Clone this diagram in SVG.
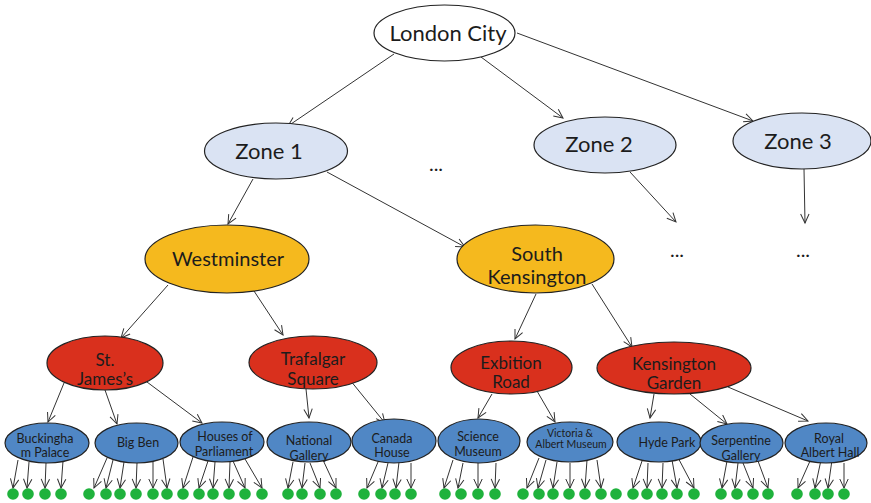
<svg xmlns="http://www.w3.org/2000/svg" width="871" height="503" viewBox="0 0 871 503">
  <defs>
    <marker id="arrow" markerUnits="userSpaceOnUse" markerWidth="12" markerHeight="12" refX="10" refY="5" orient="auto">
      <path d="M1,0.8 L10,5 L1,9.2" fill="none" stroke="#333" stroke-width="1"/>
    </marker>
    <style>
      .edge { stroke: #333; stroke-width: 1; fill: none; marker-end: url(#arrow); }
      .node { stroke: #222; stroke-width: 1.2; }
      .root { fill: #ffffff; }
      .zone { fill: #dae3f3; }
      .area { fill: #f5b91e; }
      .street { fill: #d9301d; }
      .sight { fill: #5087c5; }
      .leaf { fill: #1fb23c; }
      text { font-family: Lato, "Liberation Sans", sans-serif; fill: #1c1c1c; text-anchor: middle; }
      .t22 { font-size: 22px; }
      .t20 { font-size: 20px; }
      .t17 { font-size: 17px; }
      .t13 { font-size: 12.5px; }
      .t10 { font-size: 10.5px; }
    </style>
  </defs>

  <!-- connectors -->
  <g id="connectors">
    <line class="edge" x1="394" y1="54" x2="288" y2="126"/>
    <line class="edge" x1="481" y1="57" x2="563" y2="118"/>
    <line class="edge" x1="517" y1="33" x2="753" y2="121"/>
    <line class="edge" x1="253" y1="179" x2="228" y2="224"/>
    <line class="edge" x1="327" y1="172" x2="465" y2="247"/>
    <line class="edge" x1="630" y1="172" x2="676" y2="222"/>
    <line class="edge" x1="804" y1="169" x2="805" y2="223"/>

    <line class="edge" x1="168" y1="285" x2="121" y2="338"/>
    <line class="edge" x1="254" y1="291" x2="283" y2="335"/>
    <line class="edge" x1="536" y1="294" x2="515" y2="339"/>
    <line class="edge" x1="592" y1="284" x2="632" y2="347"/>

    <line class="edge" x1="64" y1="383" x2="48" y2="422"/>
    <line class="edge" x1="105" y1="390" x2="117" y2="424"/>
    <line class="edge" x1="147" y1="382" x2="202" y2="423"/>
    <line class="edge" x1="306" y1="389" x2="309" y2="418"/>
    <line class="edge" x1="350" y1="380" x2="385" y2="423"/>
    <line class="edge" x1="492" y1="394" x2="478" y2="418"/>
    <line class="edge" x1="537" y1="391" x2="555" y2="422"/>
    <line class="edge" x1="654" y1="394" x2="650" y2="418"/>
    <line class="edge" x1="690" y1="394" x2="727" y2="424"/>
    <line class="edge" x1="728" y1="387" x2="808" y2="421"/>

    <!-- from the sights down to the leaves -->
    <line class="edge" x1="18" y1="460" x2="13" y2="488"/>
    <line class="edge" x1="29" y1="462" x2="27" y2="488"/>
    <line class="edge" x1="46" y1="463" x2="45" y2="488"/>
    <line class="edge" x1="63" y1="461" x2="61" y2="488"/>

    <line class="edge" x1="107" y1="458" x2="94" y2="488"/>
    <line class="edge" x1="113" y1="460" x2="106" y2="488"/>
    <line class="edge" x1="124" y1="462" x2="120" y2="488"/>
    <line class="edge" x1="137" y1="463" x2="136" y2="488"/>
    <line class="edge" x1="153" y1="462" x2="153" y2="488"/>
    <line class="edge" x1="163" y1="459" x2="167" y2="488"/>

    <line class="edge" x1="193" y1="457" x2="183" y2="488"/>
    <line class="edge" x1="208" y1="461" x2="199" y2="488"/>
    <line class="edge" x1="215" y1="462" x2="213" y2="488"/>
    <line class="edge" x1="230" y1="462" x2="229" y2="488"/>
    <line class="edge" x1="233" y1="461" x2="245" y2="488"/>
    <line class="edge" x1="245" y1="459" x2="262" y2="488"/>

    <line class="edge" x1="293" y1="462" x2="288" y2="488"/>
    <line class="edge" x1="305" y1="463" x2="302" y2="488"/>
    <line class="edge" x1="310" y1="463" x2="320" y2="488"/>
    <line class="edge" x1="323" y1="460" x2="336" y2="488"/>

    <line class="edge" x1="378" y1="462" x2="367" y2="488"/>
    <line class="edge" x1="388" y1="463" x2="382" y2="488"/>
    <line class="edge" x1="399" y1="462" x2="396" y2="488"/>
    <line class="edge" x1="411" y1="463" x2="411" y2="488"/>

    <line class="edge" x1="453" y1="460" x2="444" y2="488"/>
    <line class="edge" x1="463" y1="463" x2="458" y2="488"/>
    <line class="edge" x1="478" y1="463" x2="478" y2="488"/>
    <line class="edge" x1="496" y1="463" x2="495" y2="488"/>

    <line class="edge" x1="539" y1="458" x2="527" y2="488"/>
    <line class="edge" x1="546" y1="460" x2="538" y2="488"/>
    <line class="edge" x1="557" y1="462" x2="553" y2="488"/>
    <line class="edge" x1="570" y1="463" x2="570" y2="488"/>
    <line class="edge" x1="587" y1="460" x2="585" y2="488"/>
    <line class="edge" x1="597" y1="460" x2="601" y2="488"/>

    <line class="edge" x1="642" y1="461" x2="633" y2="488"/>
    <line class="edge" x1="648" y1="463" x2="647" y2="488"/>
    <line class="edge" x1="663" y1="463" x2="662" y2="488"/>
    <line class="edge" x1="672" y1="460" x2="677" y2="488"/>
    <line class="edge" x1="675" y1="452" x2="694" y2="488"/>

    <line class="edge" x1="727" y1="461" x2="722" y2="488"/>
    <line class="edge" x1="738" y1="463" x2="735" y2="488"/>
    <line class="edge" x1="743" y1="463" x2="753" y2="488"/>
    <line class="edge" x1="758" y1="461" x2="768" y2="488"/>

    <line class="edge" x1="810" y1="461" x2="798" y2="488"/>
    <line class="edge" x1="821" y1="460" x2="815" y2="488"/>
    <line class="edge" x1="832" y1="460" x2="828" y2="488"/>
    <line class="edge" x1="844" y1="463" x2="844" y2="488"/>
  </g>

  <!-- city -->
  <g id="london-city">
    <ellipse class="node root" cx="444.5" cy="33" rx="70.5" ry="28"/>
    <text class="t22" x="448" y="41">London City</text>
  </g>

  <!-- zones -->
  <g id="zone-1">
    <ellipse class="node zone" cx="276" cy="151" rx="71.5" ry="28"/>
    <text class="t22" x="269" y="159">Zone 1</text>
  </g>
  <g id="zone-2">
    <ellipse class="node zone" cx="605" cy="145" rx="71" ry="28"/>
    <text class="t22" x="599" y="152">Zone 2</text>
  </g>
  <g id="zone-3">
    <ellipse class="node zone" cx="802" cy="141" rx="69" ry="28"/>
    <text class="t22" x="798" y="149">Zone 3</text>
  </g>
  <g id="ellipsis">
    <text class="t20" x="436" y="171">...</text>
    <text class="t20" x="677" y="257">...</text>
    <text class="t20" x="803" y="257">...</text>
  </g>

  <!-- areas -->
  <g id="westminster">
    <ellipse class="node area" cx="227" cy="259" rx="82" ry="34"/>
    <text class="t20" x="228" y="266">Westminster</text>
  </g>
  <g id="south-kensington">
    <ellipse class="node area" cx="535.5" cy="259" rx="78.5" ry="34"/>
    <text class="t20" x="537" y="261">South</text>
    <text class="t20" x="537" y="284">Kensington</text>
  </g>

  <!-- streets -->
  <g id="st-jamess">
    <ellipse class="node street" cx="105" cy="363" rx="58" ry="27"/>
    <text class="t17" x="105" y="366">St.</text>
    <text class="t17" x="105" y="385">James’s</text>
  </g>
  <g id="trafalgar-square">
    <ellipse class="node street" cx="313" cy="362.5" rx="64" ry="26.5"/>
    <text class="t17" x="313" y="365">Trafalgar</text>
    <text class="t17" x="313" y="384.5">Square</text>
  </g>
  <g id="exbition-road">
    <ellipse class="node street" cx="511.5" cy="367.5" rx="60.5" ry="26.5"/>
    <text class="t17" x="511" y="369">Exbition</text>
    <text class="t17" x="511" y="388">Road</text>
  </g>
  <g id="kensington-garden">
    <ellipse class="node street" cx="674" cy="368" rx="77" ry="26"/>
    <text class="t17" x="674" y="370">Kensington</text>
    <text class="t17" x="674" y="389">Garden</text>
  </g>

  <!-- sights -->
  <g id="buckingham-palace">
    <ellipse class="node sight" cx="47" cy="443" rx="42" ry="20"/>
    <text class="t13" x="45" y="443">Buckingha</text>
    <text class="t13" x="45" y="457">m Palace</text>
  </g>
  <g id="big-ben">
    <ellipse class="node sight" cx="136.5" cy="443" rx="41.5" ry="20"/>
    <text class="t13" x="138" y="447">Big Ben</text>
  </g>
  <g id="houses-of-parliament">
    <ellipse class="node sight" cx="222" cy="442" rx="42" ry="20"/>
    <text class="t13" x="225" y="441">Houses of</text>
    <text class="t13" x="224" y="456">Parliament</text>
  </g>
  <g id="national-gallery">
    <ellipse class="node sight" cx="309" cy="442" rx="42" ry="20"/>
    <text class="t13" x="309" y="445">National</text>
    <text class="t13" x="309" y="459.5">Gallery</text>
  </g>
  <g id="canada-house">
    <ellipse class="node sight" cx="394" cy="441" rx="42" ry="22"/>
    <text class="t13" x="392" y="443">Canada</text>
    <text class="t13" x="392" y="457">House</text>
  </g>
  <g id="science-museum">
    <ellipse class="node sight" cx="479" cy="441" rx="41" ry="22"/>
    <text class="t13" x="478" y="441">Science</text>
    <text class="t13" x="478" y="456">Museum</text>
  </g>
  <g id="victoria-albert-museum">
    <ellipse class="node sight" cx="570" cy="442" rx="43" ry="20"/>
    <text class="t10" x="570" y="437">Victoria &amp;</text>
    <text class="t10" x="571" y="448">Albert Museum</text>
  </g>
  <g id="hyde-park">
    <ellipse class="node sight" cx="659" cy="442" rx="42" ry="20"/>
    <text class="t13" x="667" y="447">Hyde Park</text>
  </g>
  <g id="serpentine-gallery">
    <ellipse class="node sight" cx="741.5" cy="443" rx="41.5" ry="20"/>
    <text class="t13" x="741" y="445">Serpentine</text>
    <text class="t13" x="741" y="459.5">Gallery</text>
  </g>
  <g id="royal-albert-hall">
    <ellipse class="node sight" cx="826" cy="443" rx="41" ry="20"/>
    <text class="t13" x="829" y="443">Royal</text>
    <text class="t13" x="830" y="457">Albert Hall</text>
  </g>

  <!-- leaves -->
  <g id="leaves">
    <circle class="leaf" cx="13" cy="494" r="5.8"/>
    <circle class="leaf" cx="28" cy="494" r="5.8"/>
    <circle class="leaf" cx="45" cy="494" r="5.8"/>
    <circle class="leaf" cx="61" cy="494" r="5.8"/>
    <circle class="leaf" cx="89" cy="494" r="5.8"/>
    <circle class="leaf" cx="106" cy="494" r="5.8"/>
    <circle class="leaf" cx="120" cy="494" r="5.8"/>
    <circle class="leaf" cx="136" cy="494" r="5.8"/>
    <circle class="leaf" cx="153" cy="494" r="5.8"/>
    <circle class="leaf" cx="167" cy="494" r="5.8"/>
    <circle class="leaf" cx="183" cy="494" r="5.8"/>
    <circle class="leaf" cx="199" cy="494" r="5.8"/>
    <circle class="leaf" cx="213" cy="494" r="5.8"/>
    <circle class="leaf" cx="229" cy="494" r="5.8"/>
    <circle class="leaf" cx="245" cy="494" r="5.8"/>
    <circle class="leaf" cx="262" cy="494" r="5.8"/>
    <circle class="leaf" cx="288" cy="494" r="5.8"/>
    <circle class="leaf" cx="302" cy="494" r="5.8"/>
    <circle class="leaf" cx="320" cy="494" r="5.8"/>
    <circle class="leaf" cx="336" cy="494" r="5.8"/>
    <circle class="leaf" cx="364" cy="494" r="5.8"/>
    <circle class="leaf" cx="381" cy="494" r="5.8"/>
    <circle class="leaf" cx="395" cy="494" r="5.8"/>
    <circle class="leaf" cx="411" cy="494" r="5.8"/>
    <circle class="leaf" cx="445" cy="494" r="5.8"/>
    <circle class="leaf" cx="461" cy="494" r="5.8"/>
    <circle class="leaf" cx="478" cy="494" r="5.8"/>
    <circle class="leaf" cx="495" cy="494" r="5.8"/>
    <circle class="leaf" cx="523" cy="494" r="5.8"/>
    <circle class="leaf" cx="539" cy="494" r="5.8"/>
    <circle class="leaf" cx="553" cy="494" r="5.8"/>
    <circle class="leaf" cx="569" cy="494" r="5.8"/>
    <circle class="leaf" cx="585" cy="494" r="5.8"/>
    <circle class="leaf" cx="601" cy="494" r="5.8"/>
    <circle class="leaf" cx="616" cy="494" r="5.8"/>
    <circle class="leaf" cx="633" cy="494" r="5.8"/>
    <circle class="leaf" cx="647" cy="494" r="5.8"/>
    <circle class="leaf" cx="662" cy="494" r="5.8"/>
    <circle class="leaf" cx="677" cy="494" r="5.8"/>
    <circle class="leaf" cx="694" cy="494" r="5.8"/>
    <circle class="leaf" cx="721" cy="494" r="5.8"/>
    <circle class="leaf" cx="737" cy="494" r="5.8"/>
    <circle class="leaf" cx="753" cy="494" r="5.8"/>
    <circle class="leaf" cx="768" cy="494" r="5.8"/>
    <circle class="leaf" cx="797" cy="494" r="5.8"/>
    <circle class="leaf" cx="815" cy="494" r="5.8"/>
    <circle class="leaf" cx="828" cy="494" r="5.8"/>
    <circle class="leaf" cx="844" cy="494" r="5.8"/>
  </g>
</svg>
